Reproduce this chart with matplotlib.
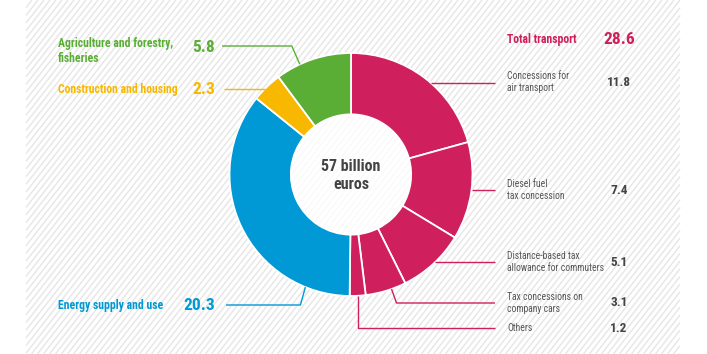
import numpy as np
import matplotlib
matplotlib.use("Agg")
import matplotlib.pyplot as plt
from matplotlib.collections import LineCollection
from matplotlib.patches import Circle

# ---------------- data ----------------
categories = ["Concessions for\nair transport", "Diesel fuel\ntax concession",
              "Distance-based tax\nallowance for commuters", "Tax concessions on\ncompany cars",
              "Others", "Energy supply and use", "Construction and housing",
              "Agriculture and forestry,\nfisheries"]
values = [11.8, 7.4, 5.1, 3.1, 1.2, 20.3, 2.3, 5.8]
value_labels = ["11.8", "7.4", "5.1", "3.1", "1.2", "20.3", "2.3", "5.8"]
group_label = "Total transport"
group_value = "28.6"
center_label = "57 billion\neuros"

CRIMSON = "#CF1F5C"
GREEN = "#5BAE35"
YELLOW = "#F8B800"
BLUE = "#0099D5"
colors = [CRIMSON] * 5 + [BLUE, YELLOW, GREEN]

FONT = ["Liberation Sans Narrow", "Roboto Condensed", "Roboto", "DejaVu Sans"]
plt.rcParams["font.family"] = FONT

W, H = 707, 354
fig = plt.figure(figsize=(W / 100, H / 100), dpi=100)
ax = fig.add_axes([0, 0, 1, 1])
ax.set_xlim(0, W)
ax.set_ylim(0, H)
ax.axis("off")


def Y(py):
    return H - py


# ---------------- hatched background ----------------
hx0, hx1 = 26, 680
period = 6.0
slope = np.tan(np.radians(52))
segs = []
c = -H / slope
while c < (hx1 - hx0) + H / slope:
    ys = np.array([0.0, H])
    xs = hx0 + c + ys / slope
    if xs[1] < hx0 or xs[0] > hx1:
        c += period
        continue
    if xs[0] < hx0:
        ys[0] = (hx0 - hx0 - c) * slope
        xs[0] = hx0
    if xs[1] > hx1:
        ys[1] = (hx1 - hx0 - c) * slope
        xs[1] = hx1
    segs.append([(xs[0], ys[0]), (xs[1], ys[1])])
    c += period
ax.add_collection(LineCollection(segs, colors="#E6E6E6", linewidths=1.0, zorder=0))

# ---------------- donut ----------------
cx, cy = 351, 174.5
R = 121.5
ring = 0.505 * R
ax.pie(values, colors=colors, startangle=90, counterclock=False,
       center=(cx, Y(cy)), radius=R,
       wedgeprops=dict(width=ring, edgecolor="white", linewidth=1.3))
ax.set_xlim(0, W)
ax.set_ylim(0, H)
ax.set_aspect("equal")
ax.add_patch(Circle((cx, Y(cy)), R - ring - 0.5, facecolor="white", alpha=0.8,
                    edgecolor="none", zorder=3))

ax.text(cx, Y(cy + 1), center_label, ha="center", va="center", fontsize=11.5,
        fontweight="bold", color="#444444", linespacing=1.25, zorder=5)

total = sum(values)
cum = np.concatenate([[0], np.cumsum(values)])
a_start = 90 - 360 * cum[:-1] / total
a_end = 90 - 360 * cum[1:] / total


def edge_point(i, frac):
    a = np.radians(a_start[i] + frac * (a_end[i] - a_start[i]))
    return cx + R * np.cos(a), cy - R * np.sin(a)


def circle_x(py, side):
    dy = py - cy
    return cx + side * np.sqrt(max(R * R - dy * dy, 0))


LW = 1.0
RX = 495  # right end of leader lines
LX = 222  # left end of leader lines


def line(pts, color):
    xs = [p[0] for p in pts]
    ys = [Y(p[1]) for p in pts]
    ax.plot(xs, ys, color=color, lw=LW, solid_capstyle="butt", zorder=4)


# right side: transport
label_x = 507
value_cx = 619
sub_y = [82, 190, 262, 303, 328]

ax.text(label_x, Y(39), group_label, ha="left", va="center", fontsize=8.5,
        fontweight="bold", color=CRIMSON)
ax.text(value_cx, Y(39), group_value, ha="center", va="center", fontsize=12.5,
        fontweight="bold", color=CRIMSON)

for i in range(5):
    ax.text(label_x, Y(sub_y[i]), categories[i], ha="left", va="center", fontsize=6.9,
            color="#555555", linespacing=1.3)
    ax.text(value_cx, Y(sub_y[i]), value_labels[i], ha="center", va="center",
            fontsize=9.5, fontweight="bold", color="#444444")

# leader lines for transport
line([(circle_x(83, 1), 83), (RX, 83)], CRIMSON)
line([(circle_x(190, 1), 190), (RX, 190)], CRIMSON)
line([(circle_x(262, 1), 262), (RX, 262)], CRIMSON)
px, py = edge_point(3, 0.36)
line([(px, py), (px + 5, 303), (RX, 303)], CRIMSON)
px, py = edge_point(4, 0.5)
line([(px, py), (px, 328), (RX, 328)], CRIMSON)

# left side
left_x = 58
left_val_r = 215
ax.text(left_x, Y(51), categories[7], ha="left", va="center", fontsize=8.5,
        fontweight="bold", color=GREEN, linespacing=1.2)
ax.text(left_val_r, Y(47), value_labels[7], ha="right", va="center", fontsize=12.5,
        fontweight="bold", color=GREEN)
px, py = edge_point(7, 0.32)
line([(LX, 46), (px - 8, 46), (px, py)], GREEN)

ax.text(left_x, Y(89), categories[6], ha="left", va="center", fontsize=8.5,
        fontweight="bold", color=YELLOW)
ax.text(left_val_r, Y(89), value_labels[6], ha="right", va="center", fontsize=12.5,
        fontweight="bold", color=YELLOW)
line([(LX + 2, 89), (circle_x(89, -1), 89)], YELLOW)

ax.text(left_x, Y(305), categories[5], ha="left", va="center", fontsize=8.5,
        fontweight="bold", color=BLUE)
ax.text(left_val_r, Y(305), value_labels[5], ha="right", va="center", fontsize=12.5,
        fontweight="bold", color=BLUE)
px, py = edge_point(5, 0.167)
line([(LX + 4, 305), (px - 5, 305), (px, py)], BLUE)

fig.savefig("out.png", dpi=100)
